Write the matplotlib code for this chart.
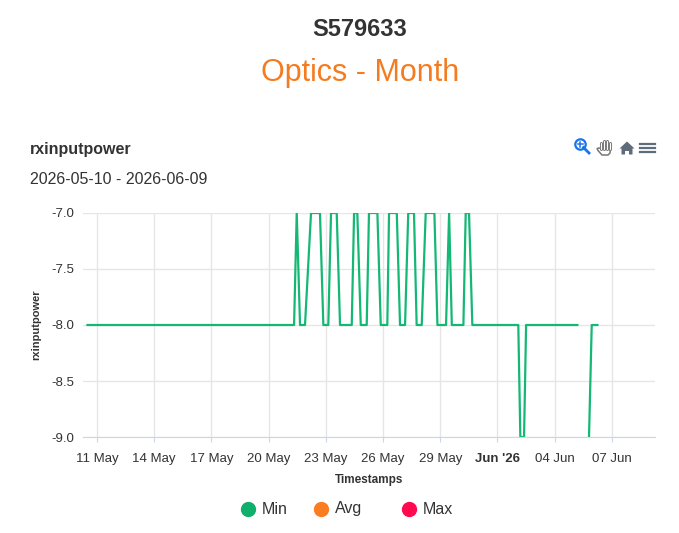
import numpy as np
import pandas as pd
import matplotlib
matplotlib.use('Agg')
import matplotlib.pyplot as plt
from matplotlib.lines import Line2D
from matplotlib.patches import Polygon, FancyBboxPatch

plt.rcParams['font.family'] = ['Liberation Sans', 'DejaVu Sans']

# rxinputpower, Min series (None = gap in the data)
times = ['2026-05-10 12:00', '2026-05-21 08:00', '2026-05-21 11:20', '2026-05-21 15:30',
         '2026-05-21 21:45', '2026-05-22 05:20', '2026-05-22 16:35', '2026-05-22 20:50',
         '2026-05-23 03:05', '2026-05-23 06:30', '2026-05-23 13:40', '2026-05-23 17:50',
         '2026-05-24 08:35', '2026-05-24 11:30', '2026-05-24 15:35', '2026-05-24 19:55',
         '2026-05-25 03:25', '2026-05-25 06:15', '2026-05-25 16:50', '2026-05-25 21:05',
         '2026-05-26 05:20', '2026-05-26 07:30', '2026-05-26 17:15', '2026-05-26 21:20',
         '2026-05-27 03:40', '2026-05-27 07:40', '2026-05-27 14:55', '2026-05-27 18:15',
         '2026-05-28 00:40', '2026-05-28 05:40', '2026-05-28 16:35', '2026-05-28 20:25',
         '2026-05-29 07:15', '2026-05-29 11:05', '2026-05-29 14:30', '2026-05-30 05:05',
         '2026-05-30 08:00', '2026-05-30 12:10', '2026-05-30 16:20', '2026-06-02 02:10',
         '2026-06-02 04:45', '2026-06-02 09:25', '2026-06-02 12:00', '2026-06-05 04:30',
         '2026-06-05 12:00', '2026-06-05 19:10', '2026-06-05 22:35', '2026-06-06 05:45']
min_vals = [-8, -8, -7, -8,
            -8, -7, -7, -8,
            -8, -7, -7, -8,
            -8, -7, -7, -8,
            -8, -7, -7, -8,
            -8, -7, -7, -8,
            -8, -7, -7, -8,
            -8, -7, -7, -8,
            -8, -7, -8, -8,
            -7, -7, -8, -8,
            -9, -9, -8, -8,
            None, -9, -8, -8]

legend_names = ['Min', 'Avg', 'Max']
legend_colors = ['#0fb06b', '#fb7d22', '#ff0a4e']

W, H = 679, 533


def px(x, y):
    # pixel position (from top-left) -> figure fraction
    return x / W, 1 - y / H


t = pd.to_datetime(times)
v = np.array([np.nan if x is None else x for x in min_vals], dtype=float)

fig = plt.figure(figsize=(6.79, 5.33), dpi=100)
ax = fig.add_axes([0.1222, 0.1801, 0.8425, 0.4203])

ax.plot(t, v, color='#14b874', lw=1.6)

ax.set_xlim(pd.Timestamp('2026-05-10 06:20'), pd.Timestamp('2026-06-09 06:15'))
ax.set_ylim(-9, -7)
ax.set_yticks([-9, -8.5, -8, -7.5, -7])
ax.yaxis.set_major_formatter(plt.FuncFormatter(lambda y, p: f'{y:.1f}'))

xt = pd.date_range('2026-05-11', '2026-06-07', freq='3D')
ax.set_xticks(xt)
labels = []
for d in xt:
    labels.append("Jun '26" if d.day == 1 else d.strftime('%d %b'))
ax.set_xticklabels(labels)
for lab in ax.get_xticklabels():
    if lab.get_text() == "Jun '26":
        lab.set_fontweight('bold')

ax.grid(True, color='#e6e6e6', lw=1)
ax.set_axisbelow(True)
for s in ['top', 'right', 'left']:
    ax.spines[s].set_visible(False)
ax.spines['bottom'].set_color('#ccd6eb')
ax.tick_params(axis='y', length=0, labelsize=9.5, colors='#333333', pad=6.5)
ax.tick_params(axis='x', length=3.3, color='#ccd6eb', labelsize=9.5, labelcolor='#333333', pad=8)

ax.set_ylabel('rxinputpower', fontsize=8, fontweight='bold', color='#333333', labelpad=7)
ax.set_xlabel('Timestamps', fontsize=8.5, fontweight='bold', color='#333333', labelpad=7)

fig.text(*px(360, 30), 'S579633', ha='center', va='center', fontsize=17,
         fontweight='bold', color='#333333')
fig.text(*px(360, 73), 'Optics - Month', ha='center', va='center', fontsize=22,
         color='#f47b20')
fig.text(*px(30, 150), 'rxinputpower', ha='left', va='center', fontsize=11.5,
         fontweight='bold', color='#333333')
fig.text(*px(30, 180), '2026-05-10 - 2026-06-09', ha='left', va='center',
         fontsize=11.5, color='#333333')

# toolbar icons: zoom, pan, home, menu
fig.add_artist(Line2D(*zip(px(580, 144)), marker='o', ms=7.5, mfc='none', mec='#1a73e8',
                      mew=1.6, ls='none'))
fig.add_artist(Line2D(*zip(px(583.5, 147.5), px(589, 153)), color='#1a73e8', lw=2))
fig.add_artist(Line2D(*zip(px(577.5, 144), px(582.5, 144)), color='#1a73e8', lw=1.1))
fig.add_artist(Line2D(*zip(px(580, 141.5), px(580, 146.5)), color='#1a73e8', lw=1.1))

for fx, top in zip([600.5, 603.5, 606.5, 609.5], [143, 140.5, 141, 143.5]):
    fig.add_artist(Line2D(*zip(px(fx, top), px(fx, 149)), color='#777777', lw=2.2,
                          solid_capstyle='round'))
    fig.add_artist(Line2D(*zip(px(fx, top), px(fx, 149)), color='white', lw=0.8,
                          solid_capstyle='round'))
fig.add_artist(Polygon([px(599.5, 148), px(610.5, 148), px(610, 153), px(608, 155),
                        px(602, 155), px(598, 150.5), px(597, 148.5)], closed=True,
                       transform=fig.transFigure, fc='white', ec='#777777', lw=1.1))

fig.add_artist(Polygon([px(619.5, 148.5), px(627, 141.5), px(634.5, 148.5),
                        px(632.5, 148.5), px(632.5, 154.5), px(629, 154.5), px(629, 151),
                        px(625, 151), px(625, 154.5), px(621.5, 154.5), px(621.5, 148.5)],
                       closed=True, transform=fig.transFigure, fc='#5f6b7a', ec='none'))
for hy in [144, 148, 152]:
    fig.add_artist(Line2D(*zip(px(640, hy), px(655, hy)), color='#5f6b7a', lw=1.6))

# legend
lx = [248, 321, 409]
for x0, name, col in zip(lx, legend_names, legend_colors):
    fig.add_artist(Line2D(*zip(px(x0, 509)), marker='o', ms=10, color=col, ls='none'))
    fig.text(*px(x0 + 14, 509), name, ha='left', va='center', fontsize=11.5,
             color='#333333')

fig.savefig('out.png', dpi=100)
